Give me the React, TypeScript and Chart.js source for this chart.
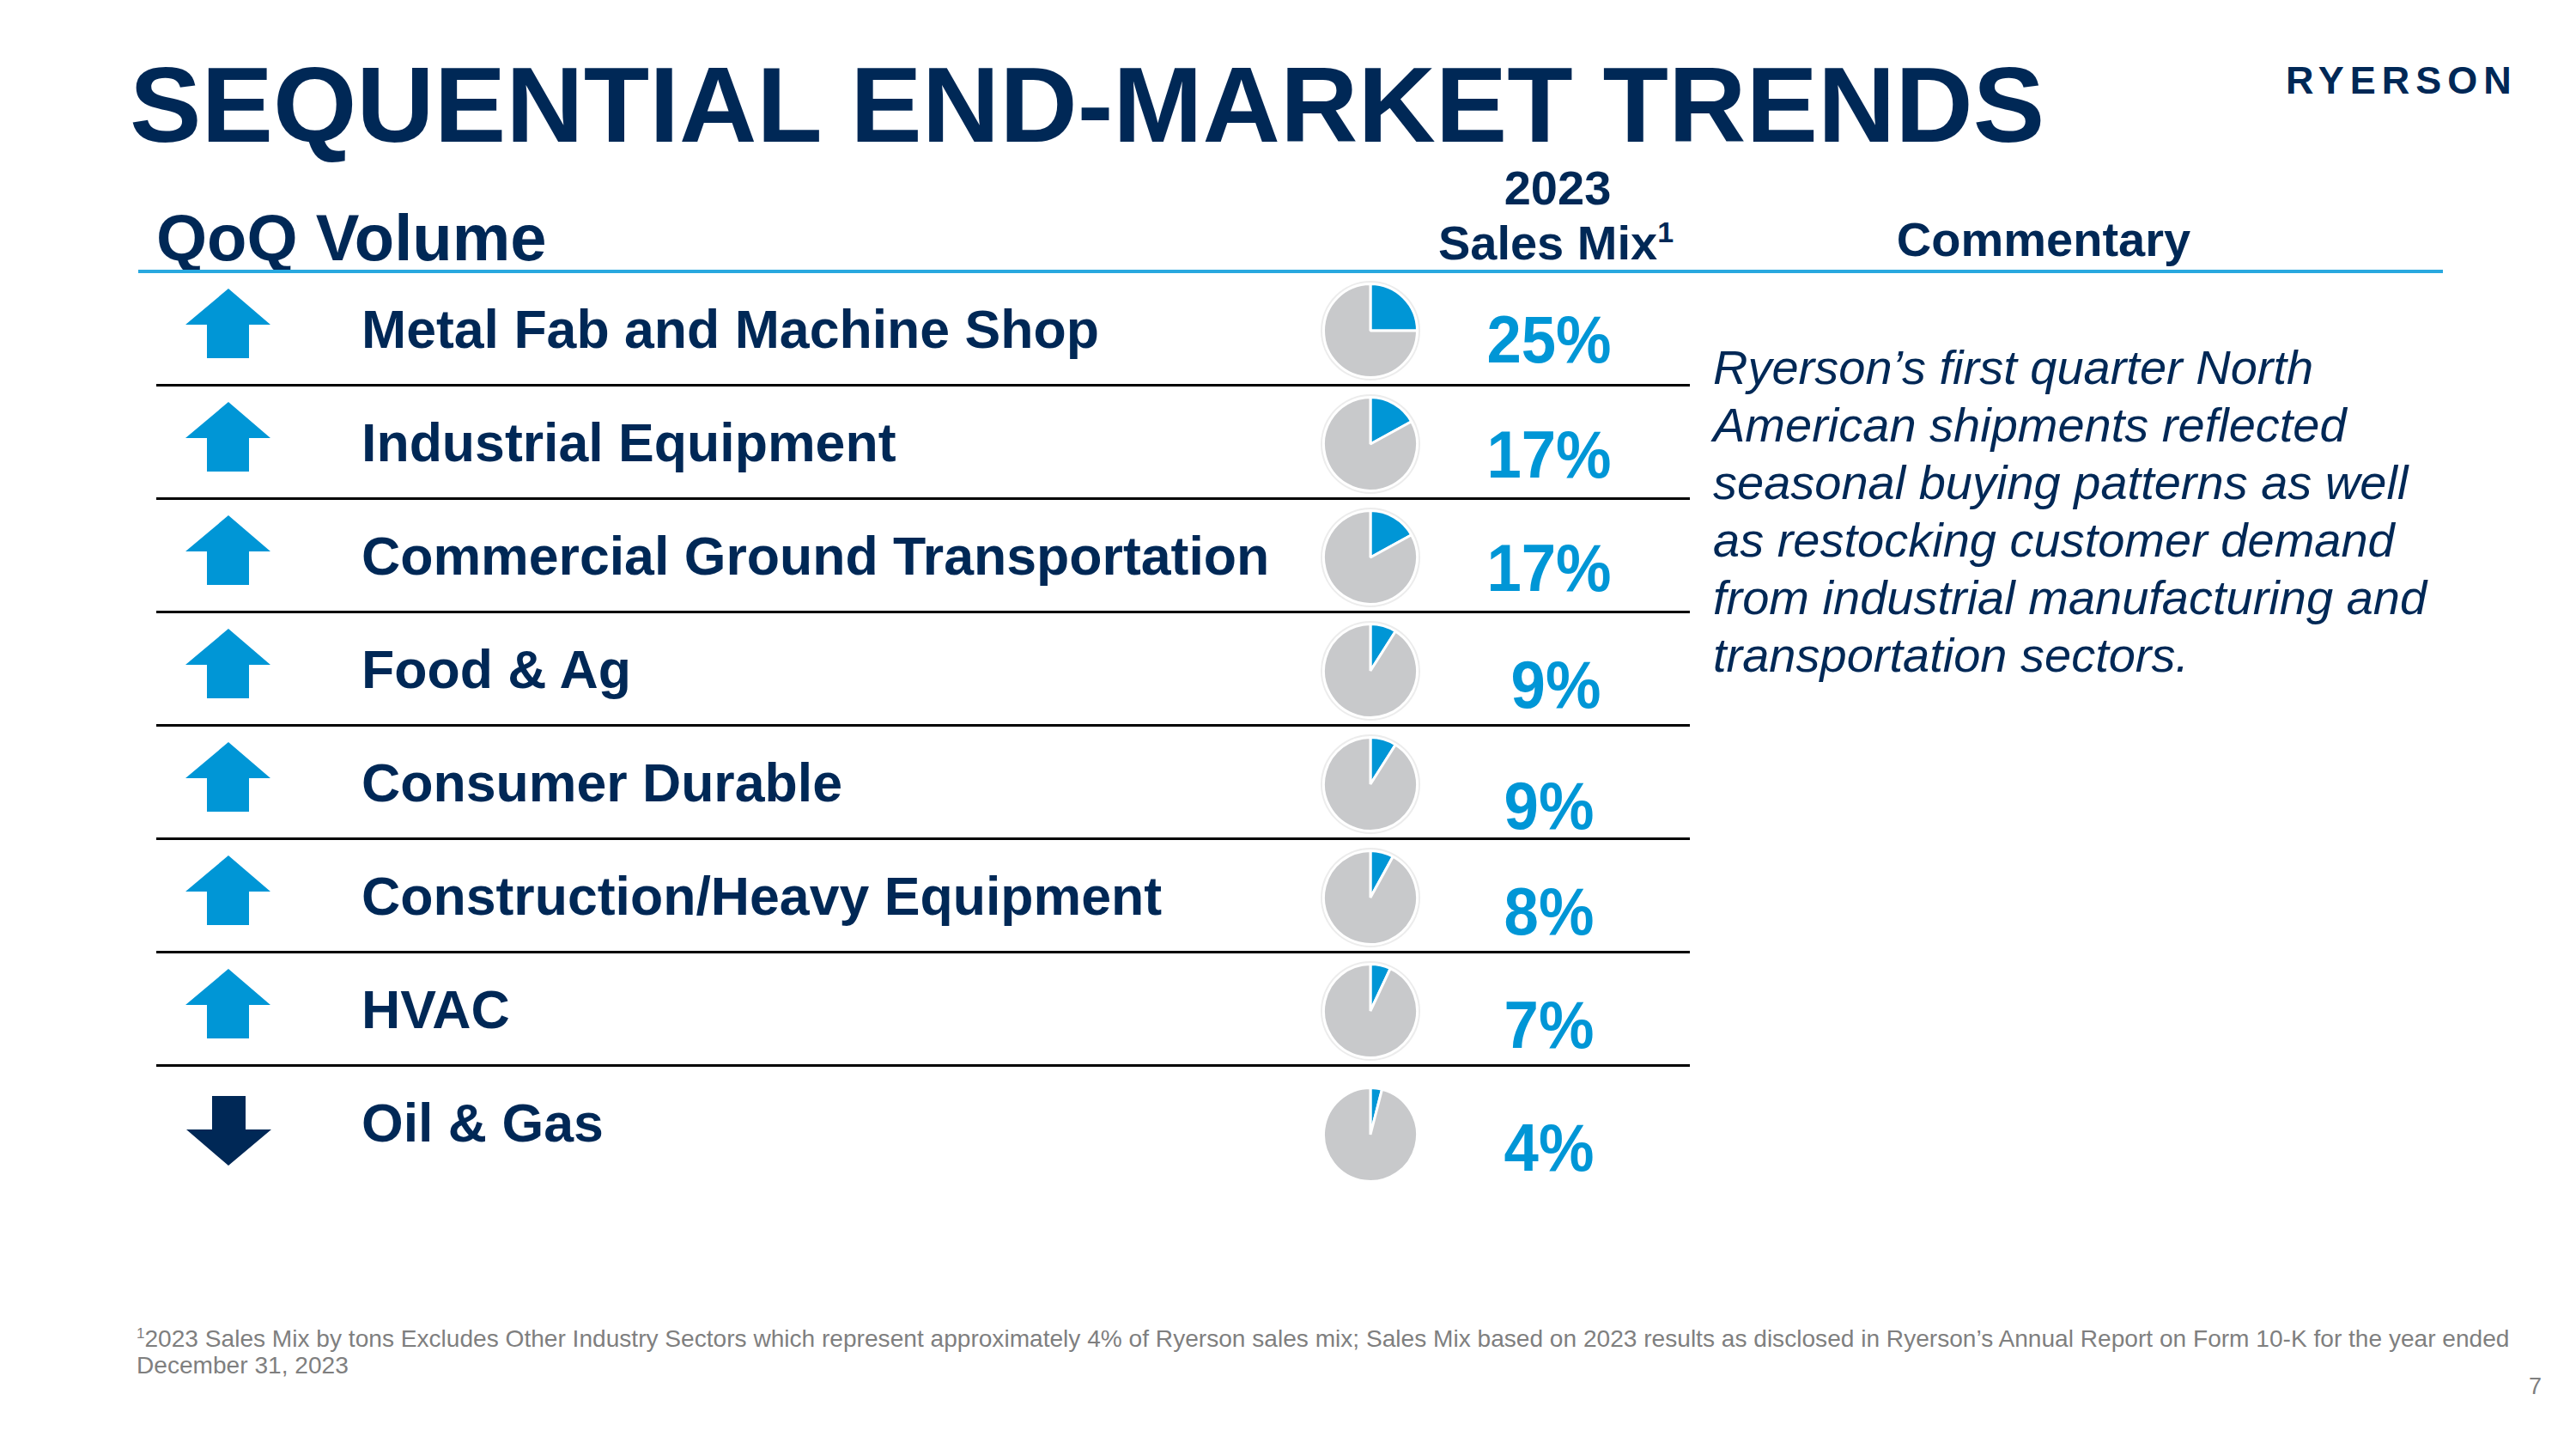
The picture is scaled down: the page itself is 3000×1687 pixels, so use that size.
import React, { useEffect, useRef } from "react";
import { Chart, registerables } from "chart.js";

Chart.register(...registerables);

// ---------- DATA ----------
const categories = [
  "Metal Fab and Machine Shop",
  "Industrial Equipment",
  "Commercial Ground Transportation",
  "Food & Ag",
  "Consumer Durable",
  "Construction/Heavy Equipment",
  "HVAC",
  "Oil & Gas",
];
const salesMix = [25, 17, 17, 9, 9, 8, 7, 4];
const qoqDirection = ["up", "up", "up", "up", "up", "up", "up", "down"];
const commentaryLines = [
  "Ryerson\u2019s first quarter North",
  "American shipments reflected",
  "seasonal buying patterns as well",
  "as restocking customer demand",
  "from industrial manufacturing and",
  "transportation sectors.",
];
const footnoteLines = [
  "2023 Sales Mix by tons Excludes Other Industry Sectors which represent approximately 4% of Ryerson sales mix; Sales Mix based on 2023 results as disclosed in Ryerson\u2019s Annual Report on Form 10-K for the year ended",
  "December 31, 2023",
];

// ---------- STYLE / LAYOUT ----------
const NAVY = "#002856";
const BLUE = "#0096d6";
const GRAY = "#c8c9cb";
const HALO = "#ececec";
const FONT = "'Liberation Sans', Arial, Helvetica, sans-serif";

const ROW0_BASE = 405;
const ROW_STEP = 132;
const pieOffsetY = [-20, -20, -20, -20, -20, -20, -20, -8];
const pctOffsetY = [17, 19, 19, 23, 32, 23, 23, 34];
const pctCenterX = [1804, 1804, 1804, 1812, 1804, 1804, 1804, 1804];
const PIE_CX = 1596;
const PIE_SIZE = 112;

type TProps = {
  x: number;
  base: number;
  size: number;
  weight?: number | string;
  italic?: boolean;
  color?: string;
  align?: "left" | "center" | "right";
  children: React.ReactNode;
  scaleX?: number;
  spacing?: number;
};

function T({ x, base, size, weight = 700, italic, color = NAVY, align = "left", children, scaleX, spacing }: TProps) {
  const top = base - 0.8465 * size;
  const transforms: string[] = [];
  const style: React.CSSProperties = {
    position: "absolute",
    top,
    left: x,
    fontFamily: FONT,
    fontSize: size,
    lineHeight: `${size}px`,
    fontWeight: weight as any,
    fontStyle: italic ? "italic" : "normal",
    color,
    whiteSpace: "nowrap",
    letterSpacing: spacing ? `${spacing}px` : undefined,
  };
  if (align === "center") transforms.push("translateX(-50%)");
  if (align === "right") transforms.push("translateX(-100%)");
  if (scaleX) transforms.push(`scaleX(${scaleX})`);
  if (transforms.length) {
    style.transform = transforms.join(" ");
    style.transformOrigin = align === "center" ? "center center" : "left center";
  }
  return <div style={style}>{children}</div>;
}

function MiniPie({ value, cx, cy, halo }: { value: number; cx: number; cy: number; halo: boolean }) {
  const ref = useRef<HTMLCanvasElement>(null);
  useEffect(() => {
    if (!ref.current) return;
    const chart = new Chart(ref.current, {
      type: "pie",
      data: {
        labels: ["Segment", "Other"],
        datasets: [
          {
            data: [value, 100 - value],
            backgroundColor: [BLUE, GRAY],
            borderColor: "#ffffff",
            borderWidth: 3,
            hoverOffset: 0,
          },
        ],
      },
      options: {
        responsive: false,
        animation: false,
        events: [],
        layout: { padding: 0 },
        plugins: { legend: { display: false }, tooltip: { enabled: false } },
      },
    });
    return () => chart.destroy();
  }, [value]);
  return (
    <>
      {halo && (
        <div
          style={{
            position: "absolute",
            left: cx - 58,
            top: cy - 58,
            width: 116,
            height: 116,
            borderRadius: "50%",
            background: HALO,
          }}
        />
      )}
      <canvas
        ref={ref}
        width={PIE_SIZE}
        height={PIE_SIZE}
        style={{ position: "absolute", left: cx - PIE_SIZE / 2, top: cy - PIE_SIZE / 2, width: PIE_SIZE, height: PIE_SIZE }}
      />
    </>
  );
}

function arrowPoints(dir: string, cx: number, b: number) {
  if (dir === "up") {
    return [
      [cx, b - 69],
      [cx + 49, b - 27],
      [cx + 24, b - 27],
      [cx + 24, b + 12],
      [cx - 25, b + 12],
      [cx - 25, b - 27],
      [cx - 50, b - 27],
    ];
  }
  return [
    [cx - 19, b - 53],
    [cx + 20, b - 53],
    [cx + 20, b - 14],
    [cx + 50, b - 14],
    [cx, b + 28],
    [cx - 49, b - 14],
    [cx - 19, b - 14],
  ];
}

export default function App() {
  const rows = categories.map((c, i) => ({ c, i, base: ROW0_BASE + ROW_STEP * i }));
  return (
    <div
      style={{
        position: "absolute",
        left: 0,
        top: 0,
        width: 3000,
        height: 1687,
        background: "#ffffff",
        overflow: "hidden",
      }}
    >
      {/* Title */}
      <T x={151} base={166} size={125.2}>
        SEQUENTIAL END-MARKET TRENDS
      </T>
      {/* Logo */}
      <T x={2662} base={109} size={45} weight={700} spacing={7}>
        RYERSON
      </T>

      {/* Headers */}
      <T x={182} base={303} size={76}>
        QoQ Volume
      </T>
      <T x={1814} base={238} size={56} align="center">
        2023
      </T>
      <T x={1812} base={302} size={56} align="center">
        Sales Mix
        <span style={{ fontSize: 34, position: "relative", top: -20 }}>1</span>
      </T>
      <T x={2380} base={298} size={56} align="center">
        Commentary
      </T>

      {/* Header blue line */}
      <div style={{ position: "absolute", left: 161, top: 314, width: 2684, height: 4, background: "#29a8df" }} />

      {/* Row separators */}
      {rows.slice(0, rows.length - 1).map((r) => (
        <div
          key={"sep" + r.i}
          style={{ position: "absolute", left: 182, top: 447 + ROW_STEP * r.i, width: 1786, height: 3, background: "#000000" }}
        />
      ))}

      {/* Arrows */}
      <svg width={3000} height={1687} style={{ position: "absolute", left: 0, top: 0 }}>
        {rows.map((r) => (
          <polygon
            key={"ar" + r.i}
            points={arrowPoints(qoqDirection[r.i], 266, r.base)
              .map((p) => p.join(","))
              .join(" ")}
            fill={qoqDirection[r.i] === "up" ? BLUE : NAVY}
          />
        ))}
      </svg>

      {/* Labels */}
      {rows.map((r) => (
        <T key={"lb" + r.i} x={421} base={r.base} size={62.6}>
          {r.c}
        </T>
      ))}

      {/* Pies */}
      {rows.map((r) => (
        <MiniPie
          key={"pie" + r.i}
          value={salesMix[r.i]}
          cx={PIE_CX}
          cy={r.base + pieOffsetY[r.i]}
          halo={r.i < rows.length - 1}
        />
      ))}

      {/* Percent labels */}
      {rows.map((r) => (
        <T
          key={"pc" + r.i}
          x={pctCenterX[r.i]}
          base={r.base + pctOffsetY[r.i]}
          size={78}
          color={BLUE}
          align="center"
          scaleX={0.93}
        >
          {salesMix[r.i] + "%"}
        </T>
      ))}

      {/* Commentary */}
      {commentaryLines.map((l, i) => (
        <T key={"cm" + i} x={1995} base={447 + 67 * i} size={56} weight={400} italic>
          {l}
        </T>
      ))}

      {/* Footnote */}
      <T x={159} base={1569} size={28.1} weight={400} color="#7f7f7f">
        <span style={{ fontSize: 17, position: "relative", top: -10 }}>1</span>
        {footnoteLines[0]}
      </T>
      <T x={159} base={1600} size={28.1} weight={400} color="#7f7f7f">
        {footnoteLines[1]}
      </T>
      <T x={2960} base={1624} size={27} weight={400} color="#7f7f7f" align="right">
        7
      </T>
    </div>
  );
}
